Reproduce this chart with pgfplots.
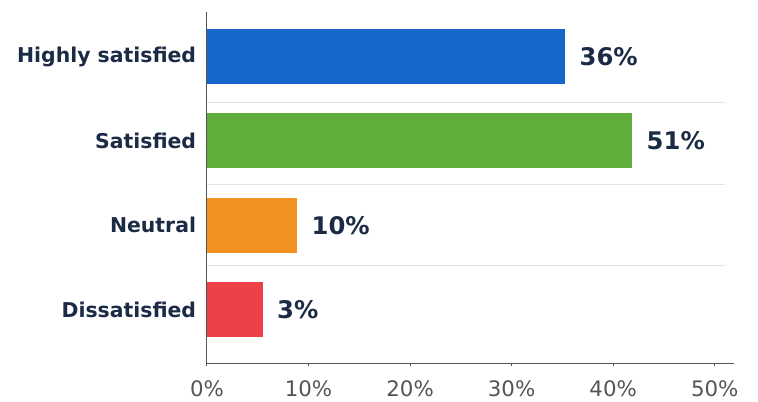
\documentclass[border=0pt]{standalone}
\usepackage{pgfplots}
\pgfplotsset{compat=1.18}
\usepackage{fontspec}
\setmainfont{DejaVu Sans}
\definecolor{navy}{HTML}{1C2B45}
\definecolor{tickgray}{HTML}{555555}
\definecolor{axisgray}{HTML}{555555}
\definecolor{sepgray}{HTML}{E2E4EA}
\definecolor{cblue}{HTML}{1766C9}
\definecolor{cgreen}{HTML}{5FAD3A}
\definecolor{corange}{HTML}{F39220}
\definecolor{cred}{HTML}{EB4147}
\begin{document}
\begin{tikzpicture}
\path[use as bounding box] (-155.25pt,-28.5pt) rectangle (413.25pt,272.25pt);
\begin{axis}[
  at={(0,0)}, anchor=south west,
  scale only axis, width=395.25pt, height=263.25pt,
  xmin=0, xmax=51.9, ymin=-0.635, ymax=3.53,
  xbar, bar width=41.25pt, bar shift=0pt,
  axis x line*=bottom, axis y line*=left,
  axis line style={draw=axisgray, line width=0.75pt},
  xtick={0,10,20,30,40,50},
  xticklabels={0\%,10\%,20\%,30\%,40\%,50\%},
  ytick={0,1,2,3},
  yticklabels={Dissatisfied,Neutral,Satisfied,Highly satisfied},
  tick align=outside, major tick length=2.5pt,
  xtick style={draw=axisgray, line width=0.75pt},
  ytick style={draw=none},
  xticklabel style={font=\fontsize{16}{18}\selectfont, text=tickgray, yshift=-7pt},
  yticklabel style={font=\bfseries\fontsize{15.3}{18}\selectfont, text=navy, inner sep=0pt, anchor=east, xshift=-5.5pt},
  point meta=explicit symbolic,
  nodes near coords={\pgfplotspointmeta},
  nodes near coords style={anchor=west, inner sep=0pt, xshift=10.5pt, font=\bfseries\fontsize{18.2}{22}\selectfont, text=navy},
  clip=false,
]
\draw[sepgray, line width=0.75pt] (axis cs:0,0.52) -- (axis cs:51,0.52);
\draw[sepgray, line width=0.75pt] (axis cs:0,1.48) -- (axis cs:51,1.48);
\draw[sepgray, line width=0.75pt] (axis cs:0,2.46) -- (axis cs:51,2.46);
\addplot[fill=cblue, draw=none] coordinates {(35.3,3) [36\%]};
\addplot[fill=cgreen, draw=none] coordinates {(41.9,2) [51\%]};
\addplot[fill=corange, draw=none] coordinates {(8.9,1) [10\%]};
\addplot[fill=cred, draw=none] coordinates {(5.5,0) [3\%]};
\end{axis}
\end{tikzpicture}
\end{document}
